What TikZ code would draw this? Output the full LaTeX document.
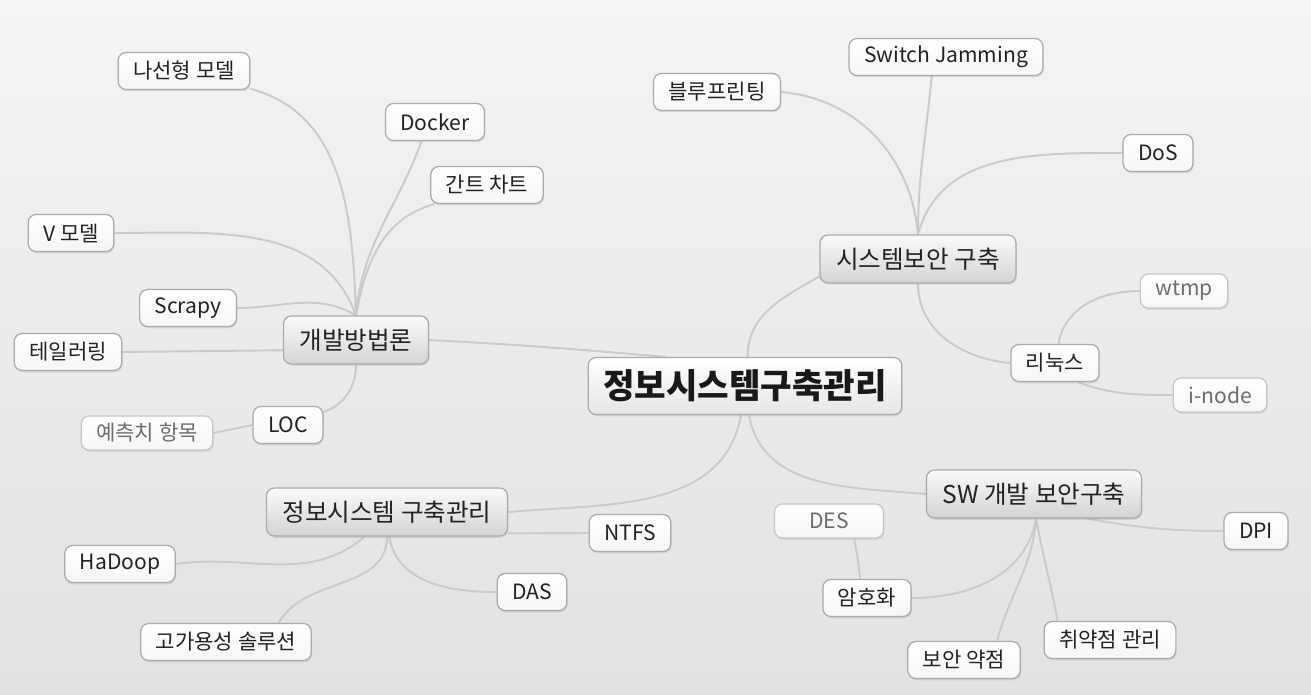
\documentclass[tikz,border=0pt]{standalone}
\usepackage{fontspec}
\setmainfont{Noto Sans CJK KR}
\usetikzlibrary{shadows,backgrounds}

\definecolor{bgtop}{RGB}{244,244,244}
\definecolor{bgbot}{RGB}{226,226,226}
\definecolor{linkgray}{RGB}{202,202,202}
\definecolor{boxline}{RGB}{170,170,170}
\definecolor{txt}{RGB}{34,34,34}

\tikzset{
  box/.style={draw=boxline, rounded corners=0.16cm, line width=0.7pt, text=txt, inner ysep=0pt,
    drop shadow={opacity=0.2, shadow xshift=0.5pt, shadow yshift=-1pt}},
  root/.style={box, top color=white, bottom color=gray!20, minimum height=1.14cm, inner xsep=0.3cm,
    font=\fontsize{19.5}{22}\selectfont\bfseries, text=black!90},
  topic/.style={box, top color=gray!4, bottom color=gray!34, minimum height=0.96cm, inner xsep=0.32cm,
    font=\fontsize{14}{16}\selectfont},
  leaf/.style={box, top color=white, bottom color=gray!7, minimum height=0.74cm, inner xsep=0.3cm,
    font=\fontsize{12}{14}\selectfont},
  subleaf/.style={leaf, draw=gray!45, text=gray!85!black, minimum height=0.68cm},
  link/.style={draw=linkgray, line width=1.1pt},
}

\begin{document}
\begin{tikzpicture}[x=0.02cm, y=-0.02cm]
  \useasboundingbox (0,0) rectangle (1311,695);

  \node[root] (root) at (745,386) {정보시스템구축관리};
  \node[topic] (dev) at (356,340) {개발방법론};
  \node[topic] (sec) at (918,259) {시스템보안 구축};
  \node[topic] (swsec) at (1034,494) {SW 개발 보안구축};
  \node[topic] (info) at (387,512) {정보시스템 구축관리};

  \node[leaf] (spiral) at (184,71) {나선형 모델};
  \node[leaf] (docker) at (435,122) {Docker};
  \node[leaf] (gantt) at (487,185) {간트 차트};
  \node[leaf] (vmodel) at (71,233) {V 모델};
  \node[leaf] (scrapy) at (188,308) {Scrapy};
  \node[leaf] (tailor) at (68,352) {테일러링};
  \node[leaf] (loc) at (288,425) {LOC};
  \node[subleaf] (estimate) at (147,433) {예측치 항목};

  \node[leaf] (blueprint) at (717,92) {블루프린팅};
  \node[leaf] (jamming) at (946,57) {Switch Jamming};
  \node[leaf] (dos) at (1158,153) {DoS};
  \node[leaf] (linux) at (1055,363) {리눅스};
  \node[subleaf] (wtmp) at (1184,291) {wtmp};
  \node[subleaf] (inode) at (1220,395) {i-node};

  \node[leaf] (ntfs) at (630,533) {NTFS};
  \node[leaf] (hadoop) at (120,564) {HaDoop};
  \node[leaf] (das) at (532,592) {DAS};
  \node[leaf] (ha) at (226,642) {고가용성 솔루션};

  \node[subleaf, minimum width=2.18cm] (des) at (829,521) {DES};
  \node[leaf] (crypto) at (867,598) {암호화};
  \node[leaf] (dpi) at (1256,531) {DPI};
  \node[leaf] (weakness) at (964,660) {보안 약점};
  \node[leaf] (vuln) at (1110,640) {취약점 관리};

  \begin{scope}[on background layer]
    \fill[top color=bgtop, bottom color=bgbot] (0,0) rectangle (1311,695);

    % main branches
    \draw[link] (root.160) to[out=175,in=-3] (dev.east);
    \draw[link] (root.85) to[out=90,in=210] (sec.190);
    \draw[link] (root.262) to[out=260,in=5] (info.east);
    \draw[link] (root.278) to[out=-80,in=175] (swsec.west);

    % 개발방법론
    \draw[link] (spiral.-15) to[out=-15,in=92] (dev.north);
    \draw[link] (docker.235) to[out=250,in=85] (dev.north);
    \draw[link] (gantt.200) to[out=195,in=80] (dev.north);
    \draw[link] (vmodel.east) to[out=0,in=110] (dev.north);
    \draw[link] (scrapy.east) to[out=0,in=150] (dev.north);
    \draw[link] (tailor.east) -- (dev.188);
    \draw[link] (dev.south) to[out=-90,in=20] (loc.20);
    \draw[link] (loc.west) -- (estimate.east);

    % 시스템보안 구축
    \draw[link] (blueprint.east) to[out=-5,in=95] (sec.north);
    \draw[link] (jamming.233) to[out=-95,in=90] (sec.north);
    \draw[link] (dos.west) to[out=180,in=75] (sec.north);
    \draw[link] (sec.south) to[out=-90,in=175] (linux.west);
    \draw[link] (linux.80) to[out=80,in=180] (wtmp.west);
    \draw[link] (linux.-40) to[out=-20,in=180] (inode.west);

    % SW 개발 보안구축
    \draw[link] (crypto.east) to[out=0,in=-100] (swsec.-85);
    \draw[link] (weakness.30) to[out=75,in=-95] (swsec.-85);
    \draw[link] (vuln.160) to[out=100,in=-80] (swsec.-85);
    \draw[link] (swsec.-25) to[out=-10,in=180] (dpi.west);
    \draw[link] (crypto.110) to[out=95,in=-80] (des.-35);

    % 정보시스템 구축관리
    \draw[link] (hadoop.east) to[out=8,in=-140] (info.228);
    \draw[link] (ha.20) to[out=60,in=-90] (info.-90);
    \draw[link] (das.west) to[out=180,in=-80] (info.-85);
    \draw[link] (info.-10) -- (ntfs.west);
  \end{scope}
\end{tikzpicture}
\end{document}
